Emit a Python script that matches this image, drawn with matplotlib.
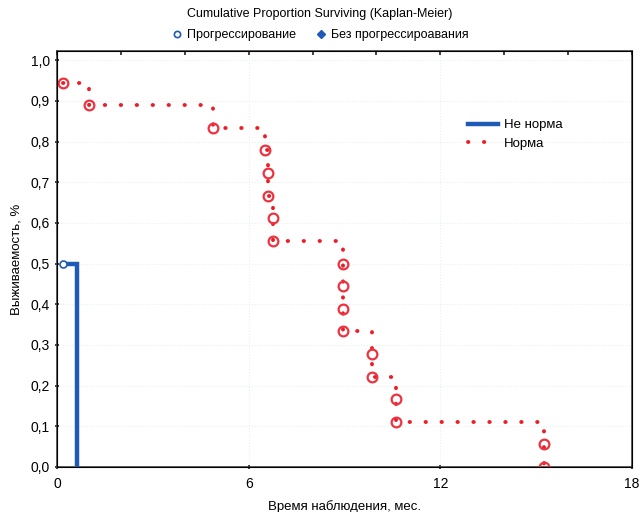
import matplotlib
matplotlib.use('Agg')
import matplotlib.pyplot as plt
from matplotlib.lines import Line2D
from matplotlib.ticker import FuncFormatter

plt.rcParams['font.family'] = ['Liberation Sans', 'DejaVu Sans']

# Не норма: шаговая кривая
bad_x = [0.19, 0.64, 0.64]
bad_y = [0.5, 0.5, 0.0]
bad_ev_x = [0.19]
bad_ev_y = [0.5]

# Норма: шаговая кривая (время, доля)
norm_t = [0.19, 1.0, 4.88, 6.51, 6.6, 6.6, 6.76, 6.76, 8.95, 8.95, 8.95, 8.95,
          9.85, 9.85, 10.6, 10.6, 15.24, 15.24]
norm_s = [0.944, 0.889, 0.833, 0.778, 0.722, 0.667, 0.611, 0.556, 0.5, 0.444,
          0.389, 0.333, 0.278, 0.222, 0.167, 0.111, 0.056, 0.0]

step_x, step_y = [norm_t[0]], [norm_s[0]]
for t, s in zip(norm_t[1:], norm_s[1:]):
    step_x += [t, t]
    step_y += [step_y[-1], s]

fig = plt.figure(figsize=(6.4, 5.12), dpi=100)
ax = fig.add_axes([0.089, 0.088, 0.8985, 0.812])

ax.plot(step_x, step_y, color='#ee1c25', lw=2.8, linestyle=(0, (0.1, 4.0)),
        dash_capstyle='round', zorder=2)
ax.plot(norm_t, norm_s, 'o', mfc='none', mec='#ee3340', mew=1.6, ms=7, zorder=3)

ax.plot(bad_x, bad_y, color='#1f5bb5', lw=3.2, solid_joinstyle='miter', zorder=4)
ax.plot(bad_ev_x, bad_ev_y, 'o', mfc='white', mec='#1f5bb5', mew=1.2, ms=5, zorder=5)

ax.set_xlim(0, 18)
ax.set_ylim(0, 1.022)
ax.set_xticks([0, 6, 12, 18])
ax.set_yticks([i / 10 for i in range(11)])
ax.yaxis.set_major_formatter(FuncFormatter(lambda v, p: f'{v:.1f}'.replace('.', ',')))
ax.tick_params(direction='inout', length=3, width=1.2, labelsize=10, color='#222222')
ax.tick_params(axis='x', pad=6)
ax.grid(True, color='#e8f0f0', linestyle=':', lw=0.8)
for sp in ax.spines.values():
    sp.set_color('#444444')
    sp.set_linewidth(1.2)

ax2 = ax.twiny()
ax2.set_xlim(0, 18)
ax2.set_xticks(range(0, 19, 2))
ax2.set_xticklabels([])
ax2.tick_params(direction='in', length=3, width=1.2, color='#222222')

ax.set_xlabel('Время наблюдения, мес.', fontsize=9.5, labelpad=6)
ax.set_ylabel('Выживаемость, %', fontsize=9.5, labelpad=6)

fig.text(0.5, 0.972, 'Cumulative Proportion Surviving (Kaplan-Meier)',
         ha='center', va='center', fontsize=9)
top_handles = [
    Line2D([], [], ls='none', marker='o', mfc='none', mec='#1f5bb5', mew=1.2, ms=4.5),
    Line2D([], [], ls='none', marker='D', color='#1f5bb5', ms=4),
]
fig.legend(top_handles, ['Прогрессирование', 'Без прогрессироавания'],
           loc='center', bbox_to_anchor=(0.5, 0.931), ncol=2, frameon=False,
           fontsize=9, handletextpad=0.3, columnspacing=1.5, handlelength=1.0)

in_handles = [
    Line2D([], [], color='#1f5bb5', lw=3.2),
    Line2D([], [], color='#ee1c25', lw=2.8, linestyle=(0, (0.1, 4.0)),
           dash_capstyle='round'),
]
ax.legend(in_handles, ['Не норма', 'Норма'], loc='upper left',
          bbox_to_anchor=(0.695, 0.865), frameon=False, fontsize=9.5,
          handlelength=2.2, handletextpad=0.5, labelspacing=0.45)

fig.savefig('out.png', dpi=100)
